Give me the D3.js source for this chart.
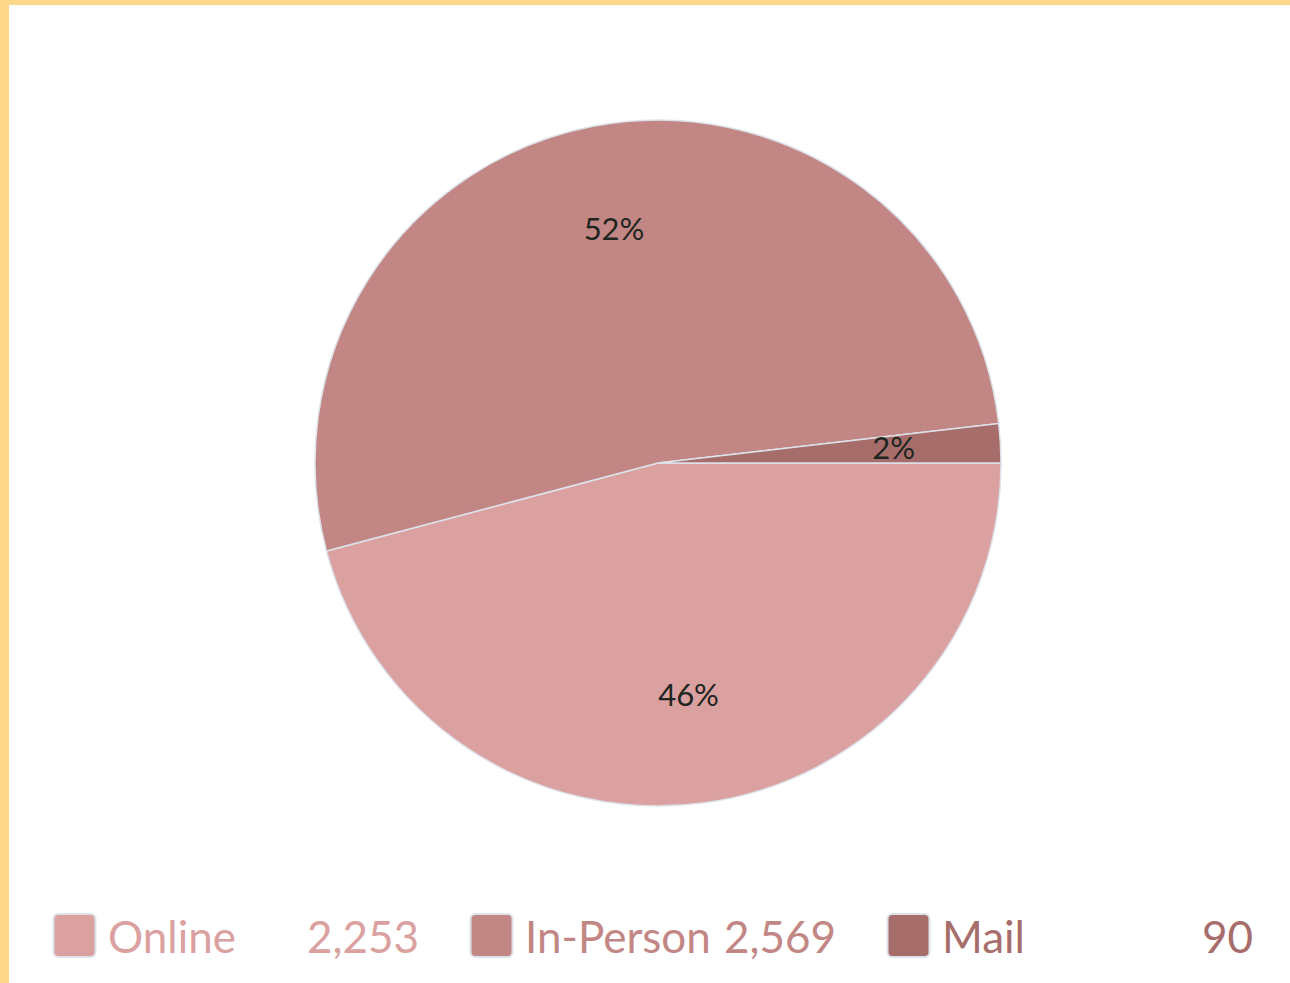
<!DOCTYPE html>
<html>
<head>
<meta charset="utf-8">
<script src="https://cdn.jsdelivr.net/npm/d3@7"></script>
<style>
  html, body { margin: 0; padding: 0; background: #fff; }
  svg { display: block; }
</style>
</head>
<body>
<svg id="chart" width="1290" height="983"></svg>
<script>
const categories = ["Online", "In-Person", "Mail"];
const values = [2253, 2569, 90];
const colors = ["#DBA0A0", "#C28784", "#A66D6B"];

const W = 1290, H = 983;
const svg = d3.select("#chart");

// frame borders
svg.append("rect").attr("x", 0).attr("y", 0).attr("width", W).attr("height", 5).attr("fill", "#FDD88A");
svg.append("rect").attr("x", 0).attr("y", 0).attr("width", 9).attr("height", H).attr("fill", "#FDD88A");

const cx = 658, cy = 463, r = 343;
const data = categories.map((c, i) => ({ cat: c, value: values[i], color: colors[i] }));
const total = d3.sum(values);

const pie = d3.pie().sort(null).value(d => d.value)
  .startAngle(Math.PI / 2).endAngle(Math.PI / 2 + 2 * Math.PI);
const arc = d3.arc().innerRadius(0).outerRadius(r);
const labelArc = d3.arc().innerRadius(236).outerRadius(236);

const g = svg.append("g").attr("transform", `translate(${cx},${cy})`);
const arcs = pie(data);
g.selectAll("path").data(arcs).join("path")
  .attr("d", arc)
  .attr("fill", d => d.data.color)
  .attr("stroke", "#DDE2EA")
  .attr("stroke-width", 1.5);

g.selectAll("text").data(arcs).join("text")
  .attr("transform", d => `translate(${labelArc.centroid(d)})`)
  .attr("text-anchor", "middle")
  .attr("dy", "0.3em")
  .attr("font-family", "Lato, sans-serif")
  .attr("font-size", 31)
  .attr("fill", "#1F261F")
  .text(d => d3.format(".0%")(d.data.value / total));

// legend
const legendX = d3.scalePoint().domain(categories).range([53, 887]);
const fmt = d3.format(",");
const lg = svg.append("g").selectAll("g").data(data).join("g")
  .attr("transform", d => `translate(${legendX(d.cat)},0)`);
lg.append("rect")
  .attr("x", 0.5).attr("y", 914).attr("width", 42).attr("height", 43)
  .attr("rx", 5).attr("ry", 5)
  .attr("fill", d => d.color)
  .attr("stroke", "#DCE3EA").attr("stroke-width", 2);
lg.append("text")
  .attr("x", 55).attr("y", 953)
  .attr("font-family", "Lato, sans-serif").attr("font-size", 44)
  .attr("fill", d => d.color)
  .text(d => d.cat);
lg.append("text")
  .attr("x", 366).attr("y", 953)
  .attr("text-anchor", "end")
  .attr("font-family", "Lato, sans-serif").attr("font-size", 44)
  .attr("fill", d => d.color)
  .text(d => fmt(d.value));
</script>
</body>
</html>
